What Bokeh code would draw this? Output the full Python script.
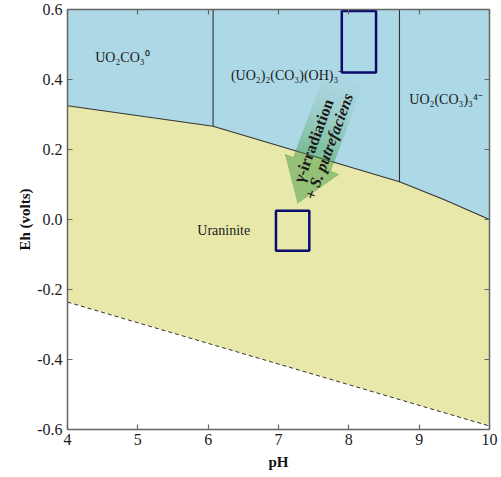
import numpy as np
from bokeh.plotting import figure
from bokeh.models import LinearAxis, Range1d, FixedTicker, NumeralTickFormatter, CustomJSTickFormatter, ColumnDataSource
from bokeh.embed import file_html
from bokeh.resources import INLINE
from bokeh.core.properties import value

# ---------------- data ----------------
ph_bound = [4.0, 6.07, 8.72, 9.35, 10.0]          # uraninite / uranyl boundary
eh_bound = [0.325, 0.2665, 0.108, 0.057, 0.0]
ph_water = [4.0, 10.0]                              # lower water stability line
eh_water = [-0.236, -0.59]
ph_vert = [6.07, 8.72]                              # vertical field boundaries
eh_vert_bottom = [0.2665, 0.108]
eh_top = 0.6
x_ticks = [4, 5, 6, 7, 8, 9, 10]
y_ticks = [-0.6, -0.4, -0.2, 0.0, 0.2, 0.4, 0.6]

field_labels = ["UO₂CO₃⁰", "(UO₂)₂(CO₃)(OH)₃⁻", "UO₂(CO₃)₃⁴⁻", "Uraninite"]
field_ph = [4.394, 6.324, 8.86, 5.845]
field_eh = [0.462, 0.412, 0.342, -0.031]

rect_left = [7.90, 6.964]
rect_right = [8.387, 7.438]
rect_top = [0.596, 0.025]
rect_bottom = [0.42, -0.089]

arrow_start = (7.936, 0.405)
arrow_end = (7.27, 0.046)
arrow_text1 = "γ-irradiation"
arrow_text2 = "+ S. putrefaciens"

# ---------------- figure ----------------
W, H = 498, 472
ML, MR, MT, MB = 67, 9, 9, 42
FW, FH = W - ML - MR, H - MT - MB

p = figure(width=W, height=H, x_range=Range1d(4, 10), y_range=Range1d(-0.6, 0.6),
           output_backend="svg", toolbar_location=None,
           min_border_left=ML, min_border_right=MR, min_border_top=MT, min_border_bottom=MB,
           x_axis_label="pH", y_axis_label="Eh (volts)")
p.grid.visible = False
p.outline_line_color = "#666666"
p.background_fill_color = "white"

serif = "Liberation Serif"
axcol = "#666666"
for ax in (p.xaxis[0], p.yaxis[0]):
    ax.major_tick_in = 5
    ax.major_tick_out = 0
    ax.minor_tick_line_color = None
    ax.axis_line_color = axcol
    ax.axis_line_width = 1.5
    ax.major_tick_line_color = axcol
    ax.major_tick_line_width = 1.2
    ax.major_label_text_font = serif
    ax.major_label_text_font_size = "16px"
    ax.major_label_text_color = "#1a1a1a"
    ax.axis_label_text_font = serif
    ax.axis_label_text_font_style = "bold"
    ax.axis_label_text_font_size = "15px"
    ax.axis_label_text_color = "#111111"
p.xaxis.ticker = FixedTicker(ticks=x_ticks)
p.yaxis.ticker = FixedTicker(ticks=y_ticks)
p.yaxis.formatter = NumeralTickFormatter(format="0.0")
p.xaxis.major_label_standoff = 4
p.yaxis.major_label_standoff = 5
p.xaxis.axis_label_standoff = 6
p.yaxis.axis_label_standoff = 1

blank = CustomJSTickFormatter(code="return ''")
for loc, tks in (("above", x_ticks), ("right", y_ticks)):
    a = LinearAxis(ticker=FixedTicker(ticks=tks), formatter=blank,
                   major_tick_in=5, major_tick_out=0, minor_tick_line_color=None,
                   axis_line_color=axcol, axis_line_width=1.5,
                   major_tick_line_color=axcol, major_tick_line_width=1.2,
                   major_label_standoff=0, major_label_text_font_size="1px")
    p.add_layout(a, loc)

# ---------------- fields ----------------
eh_w_at = np.interp(ph_bound, ph_water, eh_water)
p.varea(x=ph_bound, y1=eh_bound, y2=[eh_top] * len(ph_bound), fill_color="#ADD8E6")
p.varea(x=ph_bound, y1=eh_w_at, y2=eh_bound, fill_color="#E8E8AA")

p.line(ph_bound, eh_bound, line_color="#333333", line_width=1.1)
p.segment(x0=ph_vert, y0=eh_vert_bottom, x1=ph_vert, y1=[eh_top] * len(ph_vert),
          line_color="#333333", line_width=1.1)
p.line(ph_water, eh_water, line_color="#333333", line_width=1.0, line_dash="4 3")

# ---------------- arrow (gradient) ----------------
sx = FW / 6.0
sy = FH / 1.2
def to_px(x, y):
    return np.array([(x - 4) * sx, (y + 0.6) * sy])
def to_data(v):
    return (4 + v[0] / sx, -0.6 + v[1] / sy)

S = to_px(*arrow_start)
E = to_px(*arrow_end)
L = np.linalg.norm(E - S)
u = (E - S) / L
n = np.array([u[1], -u[0]])
head_len, head_hw, shaft_hw = 42.0, 29.0, 20.0
L1 = L - head_len

xs, ys, alphas = [], [], []
K = 30
for k in range(K):
    t0 = L1 * (k / K) ** 0.6
    c0 = S + u * t0
    cb = S + u * L1
    pts = [c0 - n * shaft_hw, cb - n * shaft_hw, cb - n * head_hw, E,
           cb + n * head_hw, cb + n * shaft_hw, c0 + n * shaft_hw]
    d = [to_data(q) for q in pts]
    xs.append([q[0] for q in d])
    ys.append([q[1] for q in d])
    alphas.append(0.025)
p.patches(xs="xs", ys="ys", fill_alpha="a",
          source=ColumnDataSource(dict(xs=xs, ys=ys, a=alphas)),
          fill_color="#44b84a", line_color=None)

ang = float(np.arctan2(-u[1], -u[0]))
tc = 70.0
C = S + u * tc
t1 = to_data(C + n * 7.0)
t2 = to_data(C - n * 9.5)
p.text(x=[t1[0]], y=[t1[1]], text=[arrow_text1], angle=ang, text_align="center",
       text_baseline="middle", text_font=value(serif), text_font_size="16px",
       text_font_style="bold", text_color="#1a1a1a")
p.text(x=[t2[0]], y=[t2[1]], text=[arrow_text2], angle=ang, text_align="center",
       text_baseline="middle", text_font=value(serif), text_font_size="16px",
       text_font_style="bold italic", text_color="#1a1a1a")

# ---------------- rectangles ----------------
p.quad(left=rect_left, right=rect_right, top=rect_top, bottom=rect_bottom,
       fill_color=None, line_color="#0b0b6e", line_width=2.5)

# ---------------- field labels ----------------
p.text(x=field_ph, y=field_eh, text=field_labels, text_align="left", text_baseline="middle",
       text_font=value(serif), text_font_size="14px", text_color="#1a1a1a")

open("out.html", "w").write(file_html(p, INLINE))
